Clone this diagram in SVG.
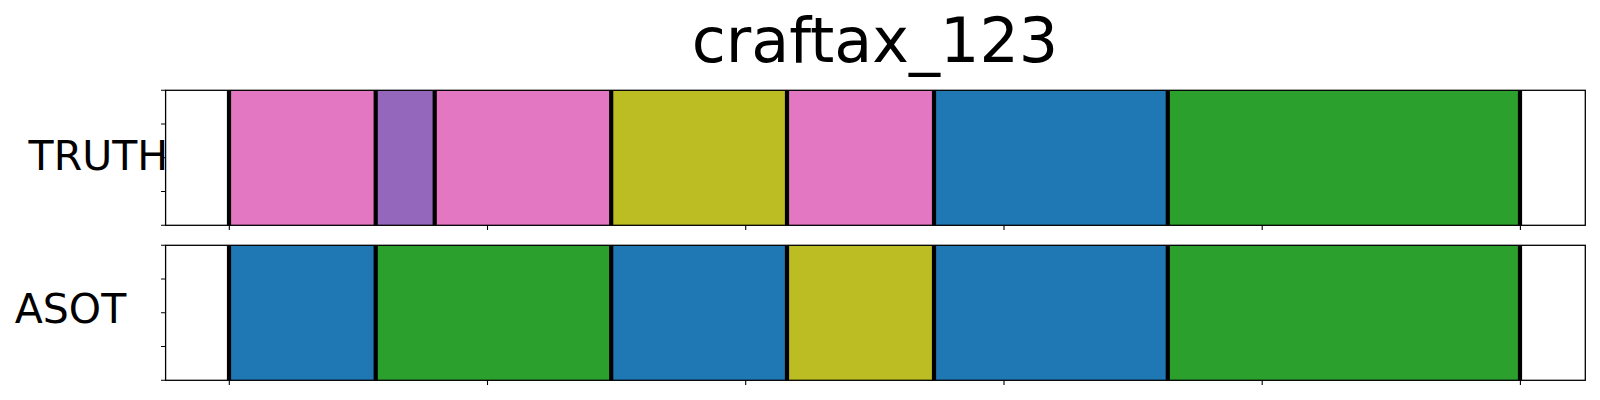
<svg xmlns="http://www.w3.org/2000/svg" width="1600" height="400" viewBox="0 0 1600 400">
<style>
text{font-family:"DejaVu Sans","Liberation Sans",sans-serif;fill:#000}
.t{font-size:62px}
.l{font-size:41px}
.pink{fill:#e377c2}.purple{fill:#9467bd}.olive{fill:#bcbd22}.blue{fill:#1f77b4}.green{fill:#2ca02c}
.b{stroke:#000;stroke-width:4.2}
.sp{fill:none;stroke:#000;stroke-width:1.3}
.tk{stroke:#000;stroke-width:1.1}
</style>
<rect width="1600" height="400" fill="#fff"/>
<text id="title" class="t" x="875" y="62" text-anchor="middle">craftax_123</text>

<g id="truth">
<rect class="pink" x="229" y="90.3" width="146.7" height="135"/>
<rect class="purple" x="375.7" y="90.3" width="59" height="135"/>
<rect class="pink" x="434.7" y="90.3" width="176.5" height="135"/>
<rect class="olive" x="611.2" y="90.3" width="175.8" height="135"/>
<rect class="pink" x="787" y="90.3" width="147" height="135"/>
<rect class="blue" x="934" y="90.3" width="233.8" height="135"/>
<rect class="green" x="1167.8" y="90.3" width="352.2" height="135"/>
<g class="b">
<line x1="229" y1="90.3" x2="229" y2="225.3"/>
<line x1="375.7" y1="90.3" x2="375.7" y2="225.3"/>
<line x1="434.7" y1="90.3" x2="434.7" y2="225.3"/>
<line x1="611.2" y1="90.3" x2="611.2" y2="225.3"/>
<line x1="787" y1="90.3" x2="787" y2="225.3"/>
<line x1="934" y1="90.3" x2="934" y2="225.3"/>
<line x1="1167.8" y1="90.3" x2="1167.8" y2="225.3"/>
<line x1="1520" y1="90.3" x2="1520" y2="225.3"/>
</g>
<rect class="sp" x="165.6" y="90.3" width="1419.7" height="135"/>
<path class="tk" d="M161,90.3H165.6M161,124H165.6M161,157.8H165.6M161,191.5H165.6M161,225.3H165.6M229.3,225.3V230M487.5,225.3V230M745.7,225.3V230M1004,225.3V230M1262.2,225.3V230M1520.4,225.3V230"/>
<text class="l" x="28.6" y="169.5">TRUTH</text>
</g>

<g id="asot">
<rect class="blue" x="229" y="245.3" width="146.7" height="135"/>
<rect class="green" x="375.7" y="245.3" width="235.5" height="135"/>
<rect class="blue" x="611.2" y="245.3" width="175.8" height="135"/>
<rect class="olive" x="787" y="245.3" width="147" height="135"/>
<rect class="blue" x="934" y="245.3" width="233.8" height="135"/>
<rect class="green" x="1167.8" y="245.3" width="352.2" height="135"/>
<g class="b">
<line x1="229" y1="245.3" x2="229" y2="380.3"/>
<line x1="375.7" y1="245.3" x2="375.7" y2="380.3"/>
<line x1="611.2" y1="245.3" x2="611.2" y2="380.3"/>
<line x1="787" y1="245.3" x2="787" y2="380.3"/>
<line x1="934" y1="245.3" x2="934" y2="380.3"/>
<line x1="1167.8" y1="245.3" x2="1167.8" y2="380.3"/>
<line x1="1520" y1="245.3" x2="1520" y2="380.3"/>
</g>
<rect class="sp" x="165.6" y="245.3" width="1419.7" height="135"/>
<path class="tk" d="M161,245.3H165.6M161,279H165.6M161,312.8H165.6M161,346.5H165.6M161,380.3H165.6M229.3,380.3V385M487.5,380.3V385M745.7,380.3V385M1004,380.3V385M1262.2,380.3V385M1520.4,380.3V385"/>
<text class="l" x="14.8" y="322.9">ASOT</text>
</g>
<g id="connectors"/>
</svg>
